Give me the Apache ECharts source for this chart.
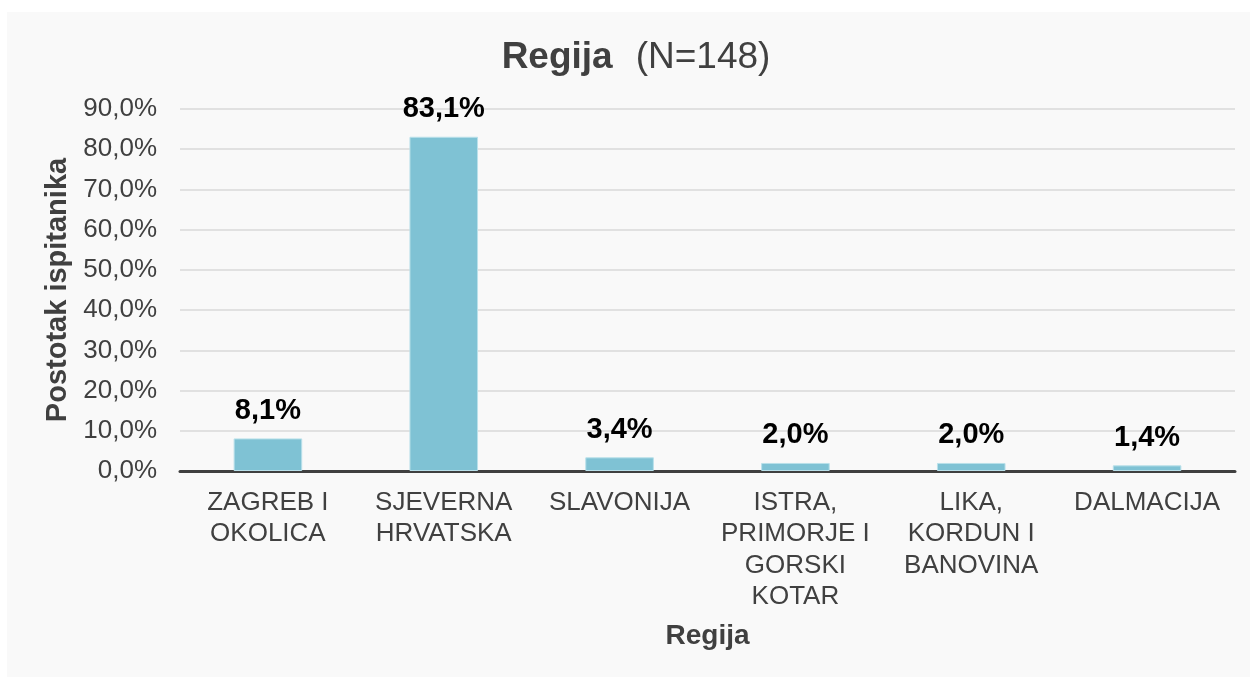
<!DOCTYPE html>
<html>
<head>
<meta charset="utf-8">
<script src="https://cdn.jsdelivr.net/npm/echarts@6/dist/echarts.min.js"></script>
<style>
html,body{margin:0;padding:0;background:#ffffff;width:1250px;height:677px;overflow:hidden;}
#c{position:absolute;left:7px;top:12px;width:1243px;height:665px;background:#f9f9f9;}
</style>
</head>
<body>
<div id="c"></div>
<script>
var categories = ['ZAGREB I\nOKOLICA', 'SJEVERNA\nHRVATSKA', 'SLAVONIJA', 'ISTRA,\nPRIMORJE I\nGORSKI\nKOTAR', 'LIKA,\nKORDUN I\nBANOVINA', 'DALMACIJA'];
var values = [8.1, 83.1, 3.4, 2.0, 2.0, 1.4];
var yTicks = [0, 10, 20, 30, 40, 50, 60, 70, 80, 90];

var chart = echarts.init(document.getElementById('c'));
var font = 'Liberation Sans, Arial, sans-serif';
chart.setOption({
  backgroundColor: '#f9f9f9',
  animation: false,
  title: {
    text: '{b|Regija}{s|}{n|(N=148)}',
    left: 624,
    textAlign: 'center',
    top: 22,
    textStyle: {
      fontWeight: 'normal',
      rich: {
        b: {fontFamily: font, fontSize: 37, fontWeight: 'bold', color: '#404040'},
        s: {width: 23},
        n: {fontFamily: font, fontSize: 37, fontWeight: 'normal', color: '#404040'}
      }
    }
  },
  grid: {left: 173, right: 15, top: 97, bottom: 206},
  xAxis: {
    type: 'category',
    data: categories,
    name: 'Regija',
    nameLocation: 'middle',
    nameGap: 151,
    nameTextStyle: {fontFamily: font, fontSize: 28, fontWeight: 'bold', color: '#404040'},
    axisLine: {lineStyle: {color: '#404040', width: 3}},
    axisTick: {show: false},
    axisLabel: {
      interval: 0,
      fontFamily: font, fontSize: 26, color: '#404040',
      lineHeight: 31.5, margin: 16
    }
  },
  yAxis: {
    type: 'value',
    min: yTicks[0], max: yTicks[yTicks.length - 1], interval: yTicks[1] - yTicks[0],
    name: 'Postotak ispitanika',
    nameLocation: 'middle',
    nameGap: 108,
    nameTextStyle: {fontFamily: font, fontSize: 29, fontWeight: 'bold', color: '#404040'},
    axisLine: {show: false},
    axisTick: {show: false},
    splitLine: {lineStyle: {color: '#d9d9d9', width: 1.5}},
    axisLabel: {
      fontFamily: font, fontSize: 26, color: '#404040', margin: 23,
      formatter: function (v) { return v.toFixed(1).replace('.', ',') + '%'; }
    }
  },
  series: [{
    type: 'bar',
    data: values,
    barWidth: '39%',
    itemStyle: {color: '#7fc2d4', borderColor: '#b9e0ea', borderWidth: 1},
    label: {
      show: true, position: 'top', distance: 13,
      fontFamily: font, fontSize: 29, fontWeight: 'bold', color: '#000000',
      formatter: function (p) { return p.value.toFixed(1).replace('.', ',') + '%'; }
    }
  }]
});
</script>
</body>
</html>
